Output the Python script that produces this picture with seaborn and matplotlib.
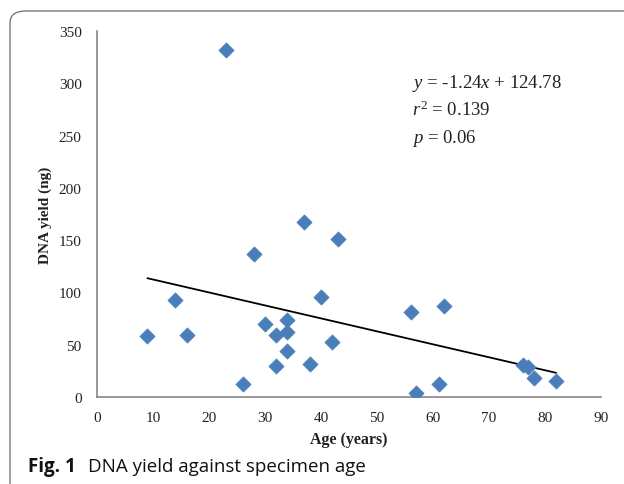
import numpy as np
import pandas as pd
import matplotlib
matplotlib.use("Agg")
import matplotlib.pyplot as plt
import seaborn as sns
from matplotlib.patches import FancyBboxPatch

# Данные
age = [9, 14, 16, 23, 26, 28, 30, 32, 32, 34, 34, 34, 37, 38, 40, 42, 43,
       56, 57, 61, 62, 76, 77, 78, 82]
dna_yield = [58, 93, 59, 332, 12, 137, 70, 59, 30, 74, 62, 44, 167, 32, 96, 53, 151,
             81, 4, 12, 87, 31, 29, 18, 15]

# Линия регрессии из подписи
fit_slope = -1.24
fit_intercept = 124.78
fit_text = ["$y$ = -1.24$x$ + 124.78", "$r^2$ = 0.139", "$p$ = 0.06"]

x_ticks = list(range(0, 91, 10))
y_ticks = list(range(0, 351, 50))

df = pd.DataFrame({"age": age, "dna": dna_yield})
fit_x = [min(age), max(age)]
fit_df = pd.DataFrame({"age": fit_x,
                       "dna": [fit_slope * v + fit_intercept for v in fit_x]})

sns.set_style("white")
plt.rcParams["font.family"] = ["Liberation Serif", "DejaVu Serif"]
plt.rcParams["mathtext.fontset"] = "custom"
plt.rcParams["mathtext.it"] = "Liberation Serif:italic"
plt.rcParams["mathtext.rm"] = "Liberation Serif"

fig = plt.figure(figsize=(6.24, 4.85), dpi=100)
ax = fig.add_axes([0.1554, 0.1794, 0.8077, 0.7546])

# Рамка вокруг рисунка
frame = FancyBboxPatch((10 / 624, -0.2), 1.2, 0.2 + 1 - 12 / 485,
                       boxstyle="round,pad=0,rounding_size=0.025",
                       transform=fig.transFigure, fill=False,
                       edgecolor="#7a7a7a", linewidth=1.0, clip_on=False)
fig.patches.append(frame)

sns.lineplot(data=fit_df, x="age", y="dna", ax=ax, color="black", linewidth=1.3)
sns.scatterplot(data=df, x="age", y="dna", ax=ax, marker="D", s=60,
                color="#4a7ebb", edgecolor="#4a7ebb", linewidth=0.5, zorder=3)

ax.set_xlim(0, 90)
ax.set_ylim(0, 350)
ax.set_xticks(x_ticks)
ax.set_yticks(y_ticks)
ax.tick_params(axis="both", direction="out", length=5, width=1, color="#888888",
               labelsize=11, labelcolor="#222222", pad=6)
ax.tick_params(axis="x", pad=5)
for side in ["top", "right"]:
    ax.spines[side].set_visible(False)
for side in ["left", "bottom"]:
    ax.spines[side].set_color("#888888")
    ax.spines[side].set_linewidth(1.2)

ax.set_xlabel("Age (years)", fontsize=11.5, fontweight="bold", color="#222222", labelpad=5)
ax.set_ylabel("DNA yield (ng)", fontsize=11, fontweight="bold", color="#222222", labelpad=5)

for i, line in enumerate(fit_text):
    ax.text(0.625, 0.86 - i * 0.075, line, transform=ax.transAxes,
            fontsize=13.5, color="#222222", va="center", ha="left")

fig.text(28 / 624, 1 - 467 / 485, "Fig. 1", fontsize=13.5, fontweight="bold",
         family=["Open Sans", "DejaVu Sans"], va="center", ha="left", color="#111111")
fig.text(88 / 624, 1 - 467 / 485, "DNA yield against specimen age", fontsize=13.5,
         family=["Open Sans", "DejaVu Sans"], va="center", ha="left", color="#111111")

fig.savefig("out.png", dpi=100)
